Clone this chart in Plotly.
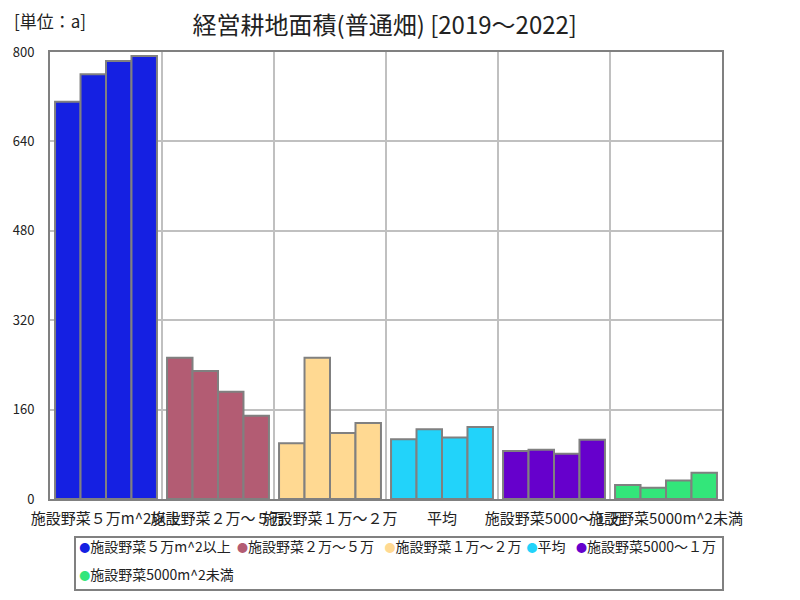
import plotly.graph_objects as go

categories = ["施設野菜５万m^2以上", "施設野菜２万～５万", "施設野菜１万～２万", "平均", "施設野菜5000～１万", "施設野菜5000m^2未満"]
years = ["2019", "2020", "2021", "2022"]
values = {
    "施設野菜５万m^2以上": [711, 760, 784, 793],
    "施設野菜２万～５万": [253, 229, 192, 149],
    "施設野菜１万～２万": [100, 253, 118, 136],
    "平均": [107, 125, 110, 129],
    "施設野菜5000～１万": [86, 88, 81, 106],
    "施設野菜5000m^2未満": [25, 20, 33, 47],
}
colors = ["#1520e2", "#b35c73", "#ffd992", "#22d3fa", "#6600cc", "#33e67a"]
y_ticks = [0, 160, 320, 480, 640, 800]

# legend item placement (paper coords): x of each legend box, y row
legend_x = [-0.0161, 0.2189, 0.4381, 0.6496, 0.7231, -0.0161]
legend_y = [-0.107, -0.107, -0.107, -0.107, -0.107, -0.170]

FONT = "Noto Sans CJK JP"
TXT = "#222222"
fig = go.Figure()

for ci, cat in enumerate(categories):
    for yi, yr in enumerate(years):
        fig.add_trace(go.Bar(
            x=[cat], y=[values[cat][yi]],
            offsetgroup=yr, legendgroup=cat,
            marker=dict(color=colors[ci], line=dict(color="#808080", width=2)),
            showlegend=False, hoverinfo="x+y", name=yr,
        ))

legend_layouts = {}
for ci, cat in enumerate(categories):
    lname = "legend" if ci == 0 else f"legend{ci + 1}"
    fig.add_trace(go.Scatter(
        x=[None], y=[None], mode="markers", legendgroup=cat, legend=lname,
        name=f"<span style='color:{colors[ci]};font-size:11px'>●</span>{cat}",
        marker=dict(color="rgba(0,0,0,0)", size=1),
    ))
    legend_layouts[lname] = dict(
        orientation="h", x=legend_x[ci], xanchor="left", y=legend_y[ci], yanchor="middle",
        bgcolor="rgba(0,0,0,0)", borderwidth=0,
        font=dict(family=FONT, size=14, color=TXT),
    )

fig.update_layout(
    width=800, height=600,
    paper_bgcolor="white", plot_bgcolor="white",
    margin=dict(l=50, r=78, t=52, b=101, autoexpand=False),
    barmode="group", bargap=0.09, bargroupgap=0,
    font=dict(family=FONT, size=13, color=TXT),
    title=dict(text="経営耕地面積(普通畑) [2019～2022]", x=0.481, xanchor="center",
               y=0.958, yanchor="middle", font=dict(family=FONT, size=24, color=TXT)),
    showlegend=True,
    xaxis=dict(type="category", categoryorder="array", categoryarray=categories,
               tickson="boundaries", showgrid=True, gridcolor="#c0c0c0", gridwidth=2,
               ticks="", showline=True, linecolor="#808080", linewidth=2, mirror=True,
               tickangle=0, automargin=False, ticklabelstandoff=5,
               tickfont=dict(family=FONT, size=15, color=TXT)),
    yaxis=dict(range=[0, 800], tickvals=y_ticks, showgrid=True, gridcolor="#c0c0c0",
               gridwidth=2, ticks="", showline=True, linecolor="#808080", linewidth=2,
               mirror=True, zeroline=False, ticklabelstandoff=11, automargin=False,
               tickfont=dict(family=FONT, size=13, color=TXT)),
    annotations=[dict(text="[単位：a]", xref="paper", yref="paper", x=-0.0565, y=1.070,
                      xanchor="left", yanchor="middle", showarrow=False,
                      font=dict(family=FONT, size=17, color=TXT))],
    shapes=[dict(type="rect", xref="paper", yref="paper", x0=0.0372, x1=1.0015,
                 y0=-0.2036, y1=-0.085, line=dict(color="#808080", width=2),
                 fillcolor="rgba(0,0,0,0)")],
    **legend_layouts,
)

fig.write_html("out.html", config={"displayModeBar": False},
               post_script="document.body.style.margin='0px';")
